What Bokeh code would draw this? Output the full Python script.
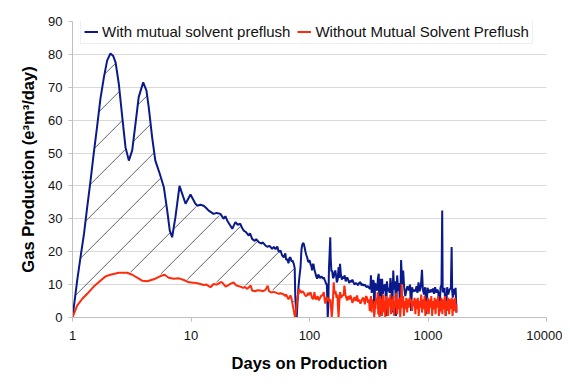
import numpy as np
from bokeh.plotting import figure
from bokeh.models import Range1d, FixedTicker, NumeralTickFormatter, Legend, LegendItem
from bokeh.embed import file_html
from bokeh.resources import INLINE

# ---- data ----
blue_days = [1.0, 1.095, 1.168, 1.25, 1.33, 1.42, 1.51, 1.61, 1.72, 1.84, 1.96, 2.09, 2.20, 2.31, 2.46,
             2.63, 2.80, 2.99, 3.19, 3.40, 3.62, 3.95, 4.21, 4.4, 4.7, 5.0, 5.45, 5.9, 6.3, 6.62, 6.93,
             7.39, 8.0, 8.43, 9.0, 9.9, 10.9, 11.3, 12.0, 12.8, 13.5, 14.1, 15.5, 16.5, 17.7, 18.9, 19.5,
             20.2, 21.0, 22.3, 23.0, 23.7, 24.8, 26.1, 27.0, 27.9, 29.0, 30.7, 31.5, 32.8, 34.5, 35.5,
             37.3, 39.0, 40.5, 42.4, 44.0, 46.0, 48.4, 50.0, 51.7, 53.5, 55.0, 57.0, 58.5, 60.7, 62.5,
             63.5, 65.0, 66.5, 67.5, 69.0, 70.5, 72.0, 73.7,
             75.0, 75.9, 77.0, 78.0, 79.0, 80.7, 82.0, 84.0, 85.5, 86.6, 88.0, 89.5, 90.7, 92.5, 94.0,
             95.6, 97.0, 98.5, 100, 101.9, 104, 105, 106.5, 108, 110, 112, 114, 116, 118, 120, 122, 124,
             126, 128, 130, 131.9, 134, 136, 138, 140, 141.5, 142.5, 144, 146, 148, 149.7, 151, 153, 155,
             158, 160, 162, 165, 168, 170, 173, 176, 178, 181, 184, 188, 190, 194, 198, 202, 208, 212,
             216, 221, 226, 230, 235, 240, 246, 252, 258, 263, 269, 275, 281, 287, 293, 299, 305, 311,
             318, 326, 330, 335, 342, 348, 352, 358, 365, 372, 378, 384, 390, 397, 404, 410, 416, 423,
             430, 437, 444, 450, 458, 466, 474, 482, 490, 499, 509, 518, 528, 538, 549, 560, 571, 582,
             593, 605, 617, 630, 643, 656, 670, 689, 705, 720, 733, 750, 765, 782, 800, 815, 832, 850,
             870, 890, 905, 925, 946, 970, 990, 1008, 1030, 1050, 1076, 1100, 1125, 1147, 1180, 1200,
             1222, 1250, 1275, 1300, 1318, 1330, 1350, 1380, 1410, 1452, 1480, 1520, 1560, 1583, 1600,
             1620, 1650, 1680, 1710, 1740]
blue_gas = [0.0, 11.2, 18.3, 25.4, 33.5, 41.6, 49.8, 57.8, 66.5, 73.0, 78.1, 80.3, 79.6, 77.6, 71.0,
            60.9, 51.8, 47.7, 50.8, 58.9, 67.0, 71.5, 69.0, 63.9, 54.8, 47.7, 43.7, 39.6, 32.5, 26.4, 24.4,
            30.5, 40.0, 37.6, 34.6, 37.4, 34.6, 34.0, 34.3, 34.0, 33.2, 32.5, 31.5, 31.8, 31.5, 30.0, 30.8,
            29.5, 28.5, 27.0, 28.0, 29.0, 28.2, 28.5, 27.2, 26.4, 26.0, 24.9, 25.6, 23.9, 23.3, 23.8,
            22.9, 22.5, 22.8, 21.9, 21.5, 21.8, 20.9, 21.5, 20.8, 21.6, 19.9, 20.4, 19.0, 18.3, 19.5,
            17.5, 17.8, 16.5, 18.0, 18.3, 17.0, 17.3, 16.3,
            15.0, 6.2, 2.0, 0.0, 4.0, 9.2, 12.0, 15.3, 20.5, 21.9, 22.6, 22.4, 21.5, 20.0, 19.0,
            18.3, 17.2, 16.8, 17.5, 16.3, 15.5, 14.3, 16.0, 16.3, 14.5, 13.5, 12.5, 11.8, 13.0, 12.8, 12.0, 12.2,
            12.5, 12.2, 11.8, 12.2, 11.5, 11.0, 10.2, 10.2, 5.0, 0.0, 3.0, 15.0, 20.0, 24.4, 18.0, 14.0, 14.3,
            12.0, 12.2, 13.5, 14.3, 12.5, 10.7, 11.5, 15.3, 12.0, 16.3, 13.0, 11.5, 12.5, 11.8, 12.8, 11.0, 12.2, 11.5,
            10.5, 11.2, 10.8, 11.5, 10.7, 10.0, 10.5, 10.2, 9.8, 10.6, 10.7, 9.8, 10.2, 9.7, 10.0, 9.5, 9.2, 9.6,
            9.0, 8.7, 12.8, 7.5, 11.2, 11.2, 1.0, 10.5, 9.0, 8.2, 12.0, 13.3, 0.5, 11.8, 1.0, 11.8, 7.2, 10.0,
            8.0, 10.2, 0.5, 11.0, 8.0, 9.0, 7.5, 12.0, 9.5, 1.5, 14.3, 8.5, 11.0, 0.5, 12.8, 8.0, 10.5, 1.5,
            17.5, 10.0, 14.3, 9.0, 6.5, 8.2, 9.5, 8.2, 10.0, 2.0, 9.2, 7.8, 8.5, 8.0, 9.5, 7.5, 10.7, 8.0,
            9.5, 14.5, 8.5, 7.0, 9.2, 1.0, 9.0, 8.2, 7.5, 8.5, 7.7, 8.8, 7.2, 9.2, 7.5, 8.5,
            7.7, 1.5, 9.0, 10.0, 32.5, 8.0, 7.7, 9.0, 0.5, 9.2, 7.0, 8.5, 9.0, 21.4, 8.0,
            6.0, 8.7, 7.0, 9.0, 1.5]

red_days = [1.0, 1.095, 1.21, 1.33, 1.51, 1.72, 1.90, 2.09, 2.46, 2.89, 3.19, 3.51, 3.87, 4.27, 5.0,
            5.53, 5.98, 6.49, 7.16, 7.9, 8.7, 9.6, 10.5, 11.3, 12.0, 12.8, 13.5, 14.6, 15.5, 16.5, 17.7,
            18.3, 19.6, 20.5, 21.5, 22.9, 24.0, 25.0, 26.1, 27.5, 28.5, 29.8, 30.8, 31.9, 32.8, 34.5,
            36.5, 38.6, 40.5, 42.5, 44.4, 45.5, 47.5, 50.0, 53.4, 56.0, 57.0, 60.7, 62.5, 63.5, 65.0,
            66.5, 69.0, 70.5, 72.0, 73.7,
            75.0, 75.9, 77.0, 78.0, 79.5, 80.7, 81.5, 83.0, 85.0, 87.0, 89.0, 91.0, 93.0, 95.6, 97.0,
            99.0, 102, 104, 106, 108, 110, 112, 114, 117, 120, 123, 126, 128, 130, 132, 134, 136, 138,
            140, 142, 145, 148, 150, 152, 154, 156, 158, 160, 163, 166, 169, 172, 174, 176, 178, 181,
            185, 190, 194, 197, 201, 204, 208, 213, 217, 221, 226, 230, 235, 240, 246, 252, 258, 263,
            269, 275, 281, 287, 293, 299, 305, 311, 318, 322, 326, 330, 334, 338, 342, 348, 352, 356,
            360, 366, 372, 376, 380, 386, 390, 395, 400, 404, 409, 414, 420, 425, 430, 436, 442, 448,
            455, 461, 468, 474, 481, 488, 495, 502, 510, 518, 525, 533, 541, 549, 557, 566, 574, 583,
            592, 600, 608, 617, 626, 636, 646, 656, 667, 677, 688, 699, 710, 721, 733, 745, 757, 769,
            782, 795, 808, 821, 835, 848, 862, 876, 890, 905, 920, 935, 950, 966, 982, 998, 1015, 1032,
            1049, 1066, 1084, 1102, 1120, 1139, 1158, 1177, 1197, 1217, 1237, 1258, 1279, 1300, 1322,
            1344, 1366, 1389, 1412, 1436, 1460, 1484, 1509, 1534, 1560, 1586, 1612, 1639, 1666, 1694,
            1722, 1740]
red_gas = [0.0, 3.6, 5.7, 7.2, 9.4, 11.2, 12.5, 13.0, 13.6, 13.6, 13.0, 12.1, 11.2, 11.0, 11.8,
           12.6, 13.0, 12.1, 11.8, 11.9, 11.4, 10.7, 10.6, 10.4, 10.2, 9.9, 10.0, 9.2, 10.2, 10.0, 10.7,
           10.7, 9.4, 9.8, 10.2, 10.7, 9.8, 9.6, 9.4, 9.0, 9.3, 8.7, 9.2, 9.7, 8.2, 8.0,
           8.3, 8.2, 8.0, 8.4, 9.7, 8.0, 7.6, 7.8, 7.4, 7.2, 7.4, 7.0, 6.5, 7.0, 6.2,
           5.5, 6.7, 5.8, 4.0, 2.1,
           0.5, 0.0, 2.0, 4.2, 6.5, 7.2, 8.7, 8.2, 7.5, 8.0, 7.7, 7.0, 6.5, 6.7, 7.5,
           6.8, 7.7, 6.5, 5.7, 5.7, 7.7, 6.0, 5.5, 6.5, 5.2, 6.0, 6.7, 6.7, 7.2, 7.7, 5.5, 4.2, 5.8,
           6.2, 5.0, 6.0, 4.5, 5.5, 3.0, 0.0, 2.5, 6.0, 10.7, 7.2, 8.0, 6.0, 7.0, 3.0, 0.0, 4.0, 7.7,
           6.0, 6.8, 6.7, 9.7, 7.0, 6.0, 5.2, 6.5, 5.5, 6.7, 5.8, 4.5, 5.2, 6.2, 5.0, 6.7, 4.8, 5.5,
           4.2, 5.0, 6.0, 5.7, 4.0, 6.5, 6.2, 4.5, 5.5, 2.0, 4.7, 6.5, 1.5, 5.5, 3.0, 4.2, 0.0, 5.0,
           2.5, 6.0, 4.7, 7.7, 1.0, 5.5, 0.0, 6.5, 3.5, 5.8, 0.5, 4.5, 7.0, 1.5, 5.0, 0.0, 6.5, 2.5,
           5.5, 0.5, 6.0, 3.5, 7.0, 1.0, 5.5, 2.0, 6.5, 0.5, 5.0, 3.0, 7.5, 1.0, 5.5, 2.5, 6.0, 0.0,
           5.0, 10.2, 3.0, 6.5, 0.5, 5.0, 2.5, 6.0, 1.5, 5.5, 3.0, 6.0, 4.5, 5.5, 2.0, 5.0, 3.5, 6.0,
           1.0, 5.5, 2.5, 6.0, 0.5, 5.0, 3.0, 7.0, 1.5, 5.5, 2.5, 6.5, 0.5, 5.0, 2.0, 6.0, 1.0, 5.5,
           3.0, 6.5, 0.5, 5.0, 2.5, 6.0, 1.0, 5.5, 3.0, 6.5, 0.5, 5.0, 2.0, 6.0, 1.0,
           5.5, 2.5, 6.5, 0.5, 5.0, 2.0, 6.0, 1.0, 5.5, 2.5, 6.0, 0.5, 5.5, 2.0, 6.0,
           1.5, 4.0]

x_ticks = [1, 10, 100, 1000, 10000]
y_ticks = [0, 10, 20, 30, 40, 50, 60, 70, 80, 90]
blue_label = "With mutual solvent preflush"
red_label = "Without Mutual Solvent Preflush"
hatch_end_day = 73.7

BLUE = "#0b1a8a"
RED = "#ff2a0a"
FONT = "Liberation Sans"

FRAME_W, FRAME_H = 474, 296
X0, X1, Y0, Y1 = 1, 10000, 0, 90

p = figure(width=562, height=380, x_axis_type="log", output_backend="svg", toolbar_location=None,
           x_range=Range1d(X0, X1), y_range=Range1d(Y0, Y1),
           min_border_left=72, min_border_right=16, min_border_top=21, min_border_bottom=63)
p.outline_line_color = None
p.background_fill_color = "white"

# ---- 45-degree hatching between the two curves (style, derived from the series) ----
nb = blue_days.index(hatch_end_day) + 1
nr = red_days.index(hatch_end_day) + 1
lb, yb = np.log10(blue_days[:nb]), np.array(blue_gas[:nb])
lr, yr = np.log10(red_days[:nr]), np.array(red_gas[:nr])
u = np.linspace(0, np.log10(hatch_end_day), 3000)
top = np.interp(u, lb, yb)
bot = np.interp(u, lr, yr)
px_per_decade = FRAME_W / np.log10(X1 / X0)
px_per_unit = FRAME_H / (Y1 - Y0)
k = px_per_decade / px_per_unit          # data units per decade for a 45-degree screen line
step = 32 / px_per_unit                   # 32 px between hatch lines (vertically)
cmin = (bot - k * u).min()
cmax = (top - k * u).max()
hxs, hys = [], []
c = cmin + 0.3 * step
while c < cmax:
    line = c + k * u
    inside = (line > bot + 0.6) & (line < top - 0.6)
    idx = np.flatnonzero(np.diff(np.concatenate([[0], inside.astype(int), [0]])))
    for s, e in zip(idx[::2], idx[1::2]):
        if e - s > 3:
            hxs.append([10 ** u[s], 10 ** u[e - 1]])
            hys.append([line[s], line[e - 1]])
    c += step
p.multi_line(hxs, hys, line_color="#3a3a3a", line_width=0.8)

rb = p.line(blue_days, blue_gas, line_color=BLUE, line_width=2)
rr = p.line(red_days, red_gas, line_color=RED, line_width=2)

# axes
p.xaxis.ticker = FixedTicker(ticks=x_ticks)
p.xaxis.formatter = NumeralTickFormatter(format="0")
p.yaxis.ticker = FixedTicker(ticks=y_ticks)
for ax in (p.xaxis[0], p.yaxis[0]):
    ax.axis_line_color = "#bfbfbf"
    ax.major_tick_line_color = "#bfbfbf"
    ax.major_tick_out = 4
    ax.major_tick_in = 0
    ax.minor_tick_line_color = None
    ax.major_label_text_font = FONT
    ax.major_label_text_font_size = "13px"
    ax.major_label_text_color = "#111111"
    ax.axis_label_text_font = FONT
    ax.axis_label_text_font_size = "16.5px"
    ax.axis_label_text_font_style = "bold"
    ax.axis_label_text_color = "#000000"
p.xaxis.axis_label = "Days on Production"
p.yaxis.axis_label = "Gas Production (e³m³/day)"
p.xaxis.major_label_standoff = 9
p.xaxis.axis_label_standoff = 11
p.yaxis.major_label_standoff = 6
p.yaxis.axis_label_standoff = 8

p.xgrid.grid_line_color = None
p.ygrid.grid_line_color = "#d9d9d9"
p.ygrid.grid_line_width = 1

legend = Legend(items=[LegendItem(label=blue_label, renderers=[rb]),
                       LegendItem(label=red_label, renderers=[rr])],
                orientation="horizontal", location=(8, 273))
legend.label_text_font = FONT
legend.label_text_font_size = "15px"
legend.label_text_color = "#111111"
legend.label_height = 13
legend.glyph_height = 13
legend.glyph_width = 14
legend.label_standoff = 4
legend.spacing = 7
legend.padding = 3
legend.margin = 0
legend.border_line_color = "#dddddd"
legend.border_line_width = 1
legend.background_fill_color = "white"
legend.background_fill_alpha = 1
p.add_layout(legend, "center")

open("out.html", "w").write(file_html(p, INLINE))
